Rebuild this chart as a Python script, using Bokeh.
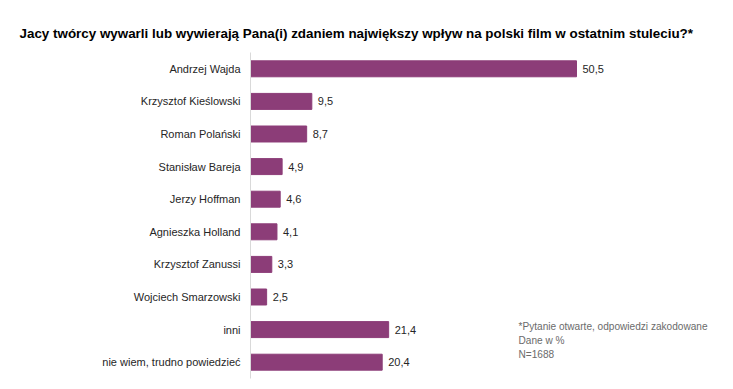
from bokeh.plotting import figure
from bokeh.models import Range1d, FixedTicker, Title, ColumnDataSource
from bokeh.core.properties import value
from bokeh.embed import file_html
from bokeh.resources import INLINE

categories = ["Andrzej Wajda", "Krzysztof Kieślowski", "Roman Polański", "Stanisław Bareja",
              "Jerzy Hoffman", "Agnieszka Holland", "Krzysztof Zanussi", "Wojciech Smarzowski",
              "inni", "nie wiem, trudno powiedzieć"]
values = [50.5, 9.5, 8.7, 4.9, 4.6, 4.1, 3.3, 2.5, 21.4, 20.4]
title_text = "Jacy twórcy wywarli lub wywierają Pana(i) zdaniem największy wpływ na polski film w ostatnim stuleciu?*"
note_lines = ["*Pytanie otwarte, odpowiedzi zakodowane", "Dane w %", "N=1688"]

FONT = "Liberation Sans"
BAR = "#8C3D78"

n = len(categories)
ypos = [n - 0.5 - i for i in range(n)]
labels = [f"{v:.1f}".replace(".", ",") for v in values]
src = ColumnDataSource(dict(y=ypos, v=values, lab=labels))

PX = 326 / 50.5  # pixels per unit
p = figure(width=717, height=381, output_backend="svg", toolbar_location=None,
           x_range=Range1d(0, (717 - 250) / PX), y_range=Range1d(0, n),
           min_border_left=250, min_border_right=0, min_border_top=52, min_border_bottom=3)
p.title = Title(text=title_text, text_font=FONT, text_font_size="13.4px",
                text_font_style="bold", text_color="#000000", offset=-231, standoff=24)
p.outline_line_color = None
p.grid.visible = False
p.xaxis.visible = False
p.background_fill_color = "white"
p.border_fill_color = "white"

p.hbar(y="y", right="v", left=0, height=0.49, source=src, color=BAR)
p.text(x="v", y="y", text="lab", source=src, x_offset=6, text_baseline="middle",
       text_font=value(FONT), text_font_size="11px", text_color="#262626")

yax = p.yaxis[0]
yax.ticker = FixedTicker(ticks=ypos)
yax.major_label_overrides = {y: c for y, c in zip(ypos, categories)}
yax.major_tick_line_color = None
yax.minor_tick_line_color = None
yax.major_tick_out = 0
yax.major_label_standoff = 10
yax.axis_line_color = "#D9D9D9"
yax.major_label_text_font = FONT
yax.major_label_text_font_size = "11px"
yax.major_label_text_color = "#262626"

ppu_y = 326 / n
note_y0 = n - (326 - 52) / ppu_y
for i, t in enumerate(note_lines):
    p.text(x=[(518 - 250) / PX], y=[note_y0 - i * 14 / ppu_y], text=[t], text_baseline="middle",
           text_font=value(FONT), text_font_size="10.1px", text_color="#6B6B6B")

open("out.html", "w").write(file_html(p, INLINE))
